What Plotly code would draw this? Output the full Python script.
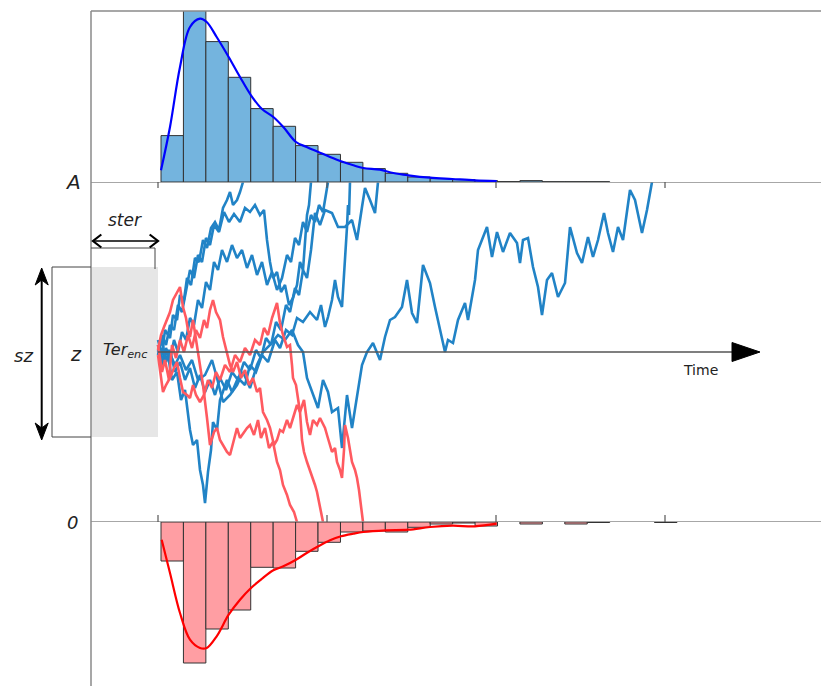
import plotly.graph_objects as go

# ---------------- data ----------------
# time in ms, evidence in arbitrary units (lower bound 0, upper bound A)
A_BOUND = 3.4
Z_START = 1.7
SZ = 1.7
TER_END = 0
TICK_TIMES = [0, 507, 1014, 1521]

BIN_START = 9
BIN_WIDTH = 67.3
correct_counts = [46.4, 175, 140.4, 104.7, 73.4, 55.7, 36.4, 27.7, 19.7, 13.4, 8.7, 5.0,
                  3.4, 2.4, 1.4, 0.4, 1.4, 0.3, 0.3, 0.3, None, None, None]
error_counts = [39, 141, 107, 88, 45.3, 46, 29.3, 20.3, 10, 9, 10, 5.3,
                2, 1, 4, None, 2, None, 2, 0.5, None, None, 0.5]

kde_correct_t = [9, 36, 66, 96, 126, 146, 176, 212, 246, 279, 311, 346, 376, 414, 446, 481,
                 516, 549, 586, 616, 666, 706, 751, 816, 883, 951, 1016]
kde_correct_d = [11.7, 55, 115, 155, 163.3, 160, 145, 125, 105, 86.7, 73.3, 65, 55, 40, 35, 30,
                 25, 20.7, 16.7, 14, 12.3, 9, 6.7, 4.3, 3, 1.7, 1]
kde_error_t = [11, 36, 66, 96, 126, 146, 176, 212, 246, 279, 311, 346, 376, 414, 446, 481,
               516, 549, 586, 616, 683, 751, 816, 883, 951, 1016]
kde_error_d = [17.7, 51, 91, 117.7, 126, 126, 114.3, 92.7, 77.7, 66, 57, 48.3, 44.3, 37.7, 31,
               24.3, 18.3, 14.3, 11.7, 10, 8.3, 7.7, 5, 3.7, 4.3, 1.7]

# upper-bound (blue) walks
b1_t = [0, 15, 30, 51, 66, 84, 102, 120, 141, 162, 177, 195, 216, 237, 255, 276, 297, 315, 336,
        360, 381, 402, 420, 435, 447, 465, 480, 495, 510, 522, 540, 552, 567, 582, 597, 612, 627,
        645, 666, 681, 696, 711, 732, 747, 762, 777, 795, 816, 831, 852, 861, 870, 885, 900, 921,
        930, 951, 960, 972, 987, 1002, 1017, 1035, 1056, 1077, 1086, 1095, 1110, 1125, 1140,
        1152, 1167, 1182, 1200, 1221, 1236, 1257, 1272, 1290, 1305, 1320, 1338, 1350, 1365,
        1380, 1395, 1416, 1431, 1452, 1467, 1482]
b1_e = [1.77, 1.62, 1.72, 1.57, 1.67, 1.52, 1.62, 1.42, 1.47, 1.62, 1.44, 1.20, 1.27, 1.37, 1.50,
        1.34, 1.57, 1.70, 1.77, 1.87, 1.82, 1.92, 1.77, 1.70, 1.44, 1.27, 1.14, 1.42, 1.30, 1.10,
        1.14, 0.74, 1.27, 0.94, 1.27, 1.57, 1.70, 1.79, 1.62, 1.85, 2.02, 2.05, 2.15, 2.42, 2.09,
        1.99, 2.57, 2.39, 2.15, 1.85, 1.70, 1.82, 1.79, 2.02, 2.19, 2.02, 2.42, 2.72, 2.82, 2.95,
        2.65, 2.90, 2.70, 2.89, 2.79, 2.59, 2.82, 2.84, 2.55, 2.35, 2.07, 2.42, 2.49, 2.25, 2.39,
        2.95, 2.69, 2.59, 2.85, 2.65, 2.82, 3.09, 2.89, 2.70, 2.95, 2.82, 3.32, 3.22, 2.89, 3.12,
        3.40]
b2_t = [0, 15, 30, 42, 57, 69, 81, 96, 105, 117, 126, 135, 141, 150, 159, 165, 177, 186, 207,
        222, 240, 261, 276, 294, 312, 330, 351, 366, 384, 402, 417, 435, 456, 477, 489, 501, 510,
        522, 531, 540, 552, 561, 567, 570, 573, 576]
b2_e = [1.77, 1.57, 1.67, 1.42, 1.50, 1.22, 1.32, 0.92, 0.77, 0.82, 0.52, 0.37, 0.19, 0.50, 0.72,
        1.00, 0.92, 1.22, 1.42, 1.30, 1.44, 1.37, 1.57, 1.50, 1.67, 1.60, 1.82, 1.74, 1.92, 1.87,
        2.04, 2.00, 2.10, 2.02, 2.17, 1.95, 2.05, 2.22, 2.42, 2.25, 2.15, 2.59, 2.95, 3.17, 3.07,
        3.40]
b3_t = [0, 12, 21, 36, 45, 57, 66, 78, 87, 99, 111, 123, 135, 147, 159, 171, 183, 195, 207, 216,
        225, 237, 246, 255]
b3_e = [1.82, 1.67, 1.92, 1.84, 2.07, 2.02, 2.27, 2.22, 2.44, 2.37, 2.64, 2.60, 2.82, 2.74, 2.94,
        3.00, 2.92, 3.14, 3.22, 3.30, 3.17, 3.22, 3.30, 3.40]
b4_t = [0, 12, 24, 36, 48, 60, 72, 84, 96, 108, 120, 132, 144, 156, 168, 183, 198, 213, 228, 246,
        261, 276, 291, 306, 318, 327, 336, 345, 357, 369, 381, 393, 405, 417, 426, 435, 441, 447,
        453, 459]
b4_e = [1.67, 1.87, 1.77, 1.97, 1.92, 2.17, 2.10, 2.30, 2.52, 2.44, 2.67, 2.60, 2.84, 2.77, 2.97,
        2.90, 3.10, 3.00, 3.08, 3.00, 3.14, 3.10, 3.17, 3.07, 3.12, 2.82, 2.60, 2.44, 2.50, 2.30,
        2.37, 2.17, 2.24, 2.37, 2.60, 2.52, 2.82, 3.07, 3.17, 3.40]
b5_t = [0, 12, 24, 36, 48, 60, 72, 84, 96, 108, 120, 132, 144, 156, 168, 180, 192, 207, 222, 237,
        252, 267, 282, 297, 312, 327, 342, 357, 372, 387, 399, 411, 423, 435, 447, 459, 471, 483,
        495, 504, 510]
b5_e = [1.72, 1.60, 1.74, 1.62, 1.82, 1.70, 1.90, 1.82, 2.04, 1.97, 2.22, 2.14, 2.40, 2.32, 2.60,
        2.52, 2.72, 2.60, 2.77, 2.64, 2.72, 2.54, 2.67, 2.47, 2.60, 2.37, 2.50, 2.32, 2.44, 2.67,
        2.60, 2.84, 2.77, 3.00, 2.90, 3.07, 3.00, 3.17, 3.10, 3.27, 3.40]
b6_t = [0, 12, 24, 36, 51, 66, 81, 96, 111, 126, 141, 156, 171, 186, 204, 222, 240, 258, 276,
        294, 309, 324, 339, 354, 369, 384, 396, 411, 423, 435, 447, 459, 471, 486, 501, 522, 540,
        561, 582, 597, 612, 621, 636, 651, 660]
b6_e = [1.70, 1.82, 1.60, 1.72, 1.50, 1.60, 1.42, 1.54, 1.34, 1.47, 1.30, 1.42, 1.27, 1.44, 1.32,
        1.50, 1.42, 1.60, 1.52, 1.72, 1.64, 1.84, 1.77, 2.00, 1.92, 2.17, 2.10, 2.34, 2.27, 2.52,
        2.44, 2.72, 3.09, 2.97, 3.12, 3.09, 2.95, 2.95, 3.02, 2.82, 3.15, 3.34, 3.22, 3.09, 3.40]

# lower-bound (red) walks
r1_t = [0, 9, 18, 27, 36, 45, 57, 66, 75, 84, 90, 96, 105, 117, 126, 135, 147, 156, 168, 177,
        186, 195, 207, 216, 228, 237, 246, 258, 267, 276, 288, 300, 309, 321, 333, 345, 357, 366,
        375, 387, 396, 408, 417]
r1_e = [1.72, 1.87, 1.95, 2.02, 2.10, 2.22, 2.30, 2.35, 2.15, 2.04, 1.92, 1.85, 2.02, 1.75, 1.57,
        1.37, 1.04, 0.77, 0.90, 0.94, 0.82, 0.77, 0.70, 0.67, 0.82, 0.94, 0.84, 0.90, 0.94, 0.97,
        0.87, 1.02, 0.84, 0.94, 0.74, 0.80, 0.60, 0.52, 0.37, 0.27, 0.17, 0.10, 0.00]
r2_t = [0, 12, 21, 33, 42, 54, 66, 78, 90, 102, 114, 126, 138, 147, 156, 165, 174, 186, 195, 207,
        216, 225, 237, 249, 261, 273, 285, 297, 306, 315, 327, 336, 348, 357, 366, 375, 387, 396,
        405, 417, 426, 438, 447, 456, 465, 477, 486, 492, 501, 507, 516, 522, 531, 537, 546, 552,
        558, 561, 570, 576, 582, 591, 597, 603, 606, 612, 615]
r2_e = [1.77, 1.50, 1.62, 1.42, 1.77, 1.64, 1.82, 1.70, 1.87, 1.74, 1.92, 1.84, 2.02, 1.94, 2.12,
        2.22, 2.10, 2.02, 1.85, 1.69, 1.57, 1.50, 1.60, 1.44, 1.52, 1.37, 1.44, 1.30, 1.34, 1.10,
        1.02, 0.94, 0.77, 0.82, 0.92, 0.90, 1.02, 0.94, 1.04, 1.17, 1.10, 1.22, 1.00, 0.87, 1.02,
        0.97, 1.04, 1.00, 0.94, 0.87, 0.77, 0.70, 0.74, 0.60, 0.52, 0.44, 0.72, 0.97, 0.84, 0.72,
        0.60, 0.52, 0.44, 0.32, 0.24, 0.12, 0.00]
r3_t = [0, 9, 15, 24, 36, 48, 57, 66, 75, 87, 96, 105, 114, 126, 138, 150, 162, 174, 186, 201,
        216, 231, 246, 261, 276, 291, 306, 318, 330, 342, 351, 357, 366, 375, 387, 396, 402, 405,
        414, 420, 426, 432, 438, 447, 456, 465, 471, 477, 483, 489, 495]
r3_e = [1.67, 1.42, 1.30, 1.37, 1.44, 1.54, 1.60, 1.44, 1.30, 1.27, 1.24, 1.37, 1.27, 1.20, 1.27,
        1.42, 1.34, 1.50, 1.42, 1.57, 1.50, 1.67, 1.60, 1.74, 1.67, 1.82, 1.77, 1.94, 1.87, 2.04,
        2.14, 2.19, 1.99, 1.87, 1.75, 1.77, 1.57, 1.44, 1.37, 1.22, 1.10, 0.82, 0.70, 0.60, 0.52,
        0.44, 0.37, 0.30, 0.20, 0.12, 0.00]

blue_walks = [(b1_t, b1_e), (b2_t, b2_e), (b3_t, b3_e), (b4_t, b4_e), (b5_t, b5_e), (b6_t, b6_e)]
red_walks = [(r1_t, r1_e), (r2_t, r2_e), (r3_t, r3_e)]

# ---------------- styles ----------------
W, H = 821, 686
X_RANGE = [-201, 1989]
X_DOMAIN = [91 / W, 1.0]
TOP_DOM = [1 - 182 / H, 1 - 11 / H]
MID_DOM = [1 - 522 / H, 1 - 182 / H]
BOT_DOM = [0.0, 1 - 522 / H]
TOP_RANGE = [0, 171]
BOT_RANGE = [-164, 0]
FONT = "DejaVu Sans"
AXIS_GRAY = "#8a8a8a"
WALK_BLUE = "#2183c6"
WALK_RED = "#ff5a60"
TXT = "#222222"

fig = go.Figure()

centers = [BIN_START + BIN_WIDTH * (i + 0.5) for i in range(len(correct_counts))]
fig.add_trace(go.Bar(x=centers, y=correct_counts, width=BIN_WIDTH, xaxis="x", yaxis="y",
                     marker=dict(color="#74b4de", line=dict(color="#333333", width=1))))
fig.add_trace(go.Bar(x=centers, y=[None if v is None else -v for v in error_counts],
                     width=BIN_WIDTH, xaxis="x", yaxis="y3",
                     marker=dict(color="#ff9ea3", line=dict(color="#333333", width=1))))
fig.add_trace(go.Scatter(x=kde_correct_t, y=kde_correct_d, mode="lines", xaxis="x", yaxis="y",
                         line=dict(color="#0000ff", width=2.2, shape="spline")))
fig.add_trace(go.Scatter(x=kde_error_t, y=[-v for v in kde_error_d], mode="lines", xaxis="x",
                         yaxis="y3", line=dict(color="#ff0000", width=2.2, shape="spline")))

for t, e in blue_walks:
    fig.add_trace(go.Scatter(x=t, y=e, mode="lines", xaxis="x", yaxis="y2",
                             line=dict(color=WALK_BLUE, width=2.6)))
for t, e in red_walks:
    fig.add_trace(go.Scatter(x=t, y=e, mode="lines", xaxis="x", yaxis="y2",
                             line=dict(color=WALK_RED, width=2.6)))

shapes = []
# Ter box
shapes.append(dict(type="rect", xref="x", yref="y2", x0=X_RANGE[0], x1=TER_END,
                   y0=Z_START - SZ / 2, y1=Z_START + SZ / 2, fillcolor="#e6e6e6",
                   line=dict(width=0), layer="below"))
# frame lines
shapes.append(dict(type="line", xref="paper", yref="paper", x0=X_DOMAIN[0], x1=1,
                   y0=TOP_DOM[1], y1=TOP_DOM[1], line=dict(color=AXIS_GRAY, width=1.5)))
for yv in (A_BOUND, 0):
    shapes.append(dict(type="line", xref="paper", yref="y2", x0=X_DOMAIN[0], x1=1,
                       y0=yv, y1=yv, line=dict(color=AXIS_GRAY, width=1.5)))
shapes.append(dict(type="line", xref="paper", yref="paper", x0=X_DOMAIN[0], x1=X_DOMAIN[0],
                   y0=0, y1=TOP_DOM[1], line=dict(color=AXIS_GRAY, width=1.5)))
# ticks
for tv in TICK_TIMES:
    shapes.append(dict(type="line", xref="x", yref="y2", x0=tv, x1=tv, y0=A_BOUND,
                       y1=A_BOUND - 0.06, line=dict(color="#555555", width=1.2)))
    shapes.append(dict(type="line", xref="x", yref="y2", x0=tv, x1=tv, y0=0,
                       y1=0.07, line=dict(color="#555555", width=1.2)))
# z / time axis line and arrow head
shapes.append(dict(type="line", xref="x", yref="y2", x0=TER_END, x1=1722, y0=Z_START,
                   y1=Z_START, line=dict(color="#555555", width=1.3)))
shapes.append(dict(type="path", xref="x", yref="y2",
                   path=f"M 1722 {Z_START + 0.095} L 1806 {Z_START} L 1722 {Z_START - 0.095} Z",
                   fillcolor="black", line=dict(color="black", width=1)))
# ster bracket
shapes.append(dict(type="line", xref="x", yref="y2", x0=X_RANGE[0], x1=-9, y0=2.74, y1=2.74,
                   line=dict(color="#444444", width=1)))
shapes.append(dict(type="line", xref="x", yref="y2", x0=-9, x1=-9, y0=2.74, y1=2.53,
                   line=dict(color="#444444", width=1)))
# ster double arrow (shaft + open chevron heads)
ster_y = 2.81
shapes.append(dict(type="line", xref="x", yref="y2", x0=-194, x1=-1, y0=ster_y, y1=ster_y,
                   line=dict(color="black", width=1.6)))
shapes.append(dict(type="path", xref="x", yref="y2",
                   path=f"M -170 {ster_y + 0.065} L -195 {ster_y} L -170 {ster_y - 0.065}",
                   line=dict(color="black", width=2.2)))
shapes.append(dict(type="path", xref="x", yref="y2",
                   path=f"M -25 {ster_y + 0.065} L 0 {ster_y} L -25 {ster_y - 0.065}",
                   line=dict(color="black", width=2.2)))
# sz bracket
sx0 = 52 / W
for yv in (Z_START + SZ / 2, Z_START - SZ / 2):
    shapes.append(dict(type="line", xref="paper", yref="y2", x0=sx0, x1=X_DOMAIN[0], y0=yv,
                       y1=yv, line=dict(color="#444444", width=1)))
shapes.append(dict(type="line", xref="paper", yref="y2", x0=sx0, x1=sx0, y0=Z_START - SZ / 2,
                   y1=Z_START + SZ / 2, line=dict(color="#444444", width=1)))
# sz double arrow (shaft + filled heads)
ax_ = 41.7 / W
hw = 6.5 / W
top_tip, bot_tip = 2.54, 0.82
shapes.append(dict(type="line", xref="paper", yref="y2", x0=ax_, x1=ax_, y0=top_tip - 0.1,
                   y1=bot_tip + 0.1, line=dict(color="black", width=2)))
shapes.append(dict(type="path", xref="paper", yref="y2",
                   path=f"M {ax_} {top_tip} L {ax_ + hw} {top_tip - 0.17} L {ax_} {top_tip - 0.12} "
                        f"L {ax_ - hw} {top_tip - 0.17} Z",
                   fillcolor="black", line=dict(color="black", width=1)))
shapes.append(dict(type="path", xref="paper", yref="y2",
                   path=f"M {ax_} {bot_tip} L {ax_ + hw} {bot_tip + 0.17} L {ax_} {bot_tip + 0.12} "
                        f"L {ax_ - hw} {bot_tip + 0.17} Z",
                   fillcolor="black", line=dict(color="black", width=1)))

annotations = [
    dict(x=73 / W, y=A_BOUND, xref="paper", yref="y2", text="<i>A</i>", showarrow=False,
         xanchor="center", yanchor="middle", font=dict(size=20, family=FONT, color=TXT)),
    dict(x=72 / W, y=0, xref="paper", yref="y2", text="<i>0</i>", showarrow=False,
         xanchor="center", yanchor="middle", font=dict(size=18, family=FONT, color=TXT)),
    dict(x=76 / W, y=1.68, xref="paper", yref="y2", text="<i>z</i>", showarrow=False,
         xanchor="center", yanchor="middle", font=dict(size=19, family=FONT, color=TXT)),
    dict(x=23 / W, y=1.67, xref="paper", yref="y2", text="<i>sz</i>", showarrow=False,
         xanchor="center", yanchor="middle", font=dict(size=18, family=FONT, color=TXT)),
    dict(x=-99, y=3.02, xref="x", yref="y2", text="<i>ster</i>", showarrow=False,
         xanchor="center", yanchor="middle", font=dict(size=17, family=FONT, color=TXT)),
    dict(x=-99, y=1.72, xref="x", yref="y2", text="<i>Ter<sub>enc</sub></i>", showarrow=False,
         xanchor="center", yanchor="middle", font=dict(size=16, family=FONT, color=TXT)),
    dict(x=1626, y=1.52, xref="x", yref="y2", text="Time", showarrow=False,
         xanchor="center", yanchor="middle", font=dict(size=14, family=FONT, color=TXT)),
]

hidden = dict(visible=False, showgrid=False, zeroline=False, fixedrange=True)
fig.update_layout(
    width=W, height=H, margin=dict(l=0, r=0, t=0, b=0), showlegend=False,
    plot_bgcolor="white", paper_bgcolor="white", barmode="overlay",
    xaxis=dict(domain=X_DOMAIN, range=X_RANGE, anchor="y2", **hidden),
    yaxis=dict(domain=TOP_DOM, range=TOP_RANGE, anchor="x", **hidden),
    yaxis2=dict(domain=MID_DOM, range=[0, A_BOUND], anchor="x", **hidden),
    yaxis3=dict(domain=BOT_DOM, range=BOT_RANGE, anchor="x", **hidden),
    shapes=shapes, annotations=annotations,
)
fig.write_html("out.html")
